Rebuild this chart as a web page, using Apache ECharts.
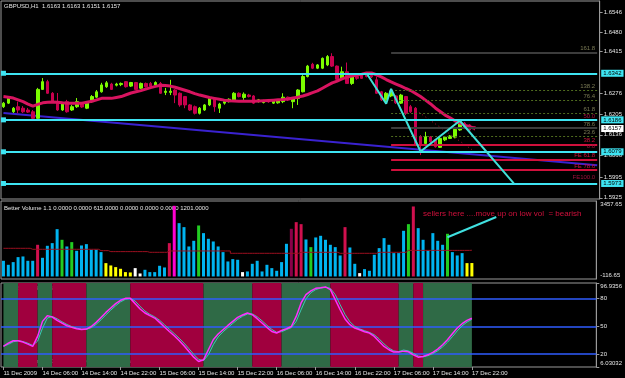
<!DOCTYPE html>
<html><head><meta charset="utf-8">
<script src="https://cdn.jsdelivr.net/npm/echarts@6/dist/echarts.min.js"></script>
<style>html,body{margin:0;padding:0;background:#000;}#c{width:625px;height:378px;}</style>
</head><body><div id="c"></div>
<script>
// ---------- DATA ----------
const tickLabels = ['11 Dec 2009','14 Dec 06:00','14 Dec 14:00','14 Dec 22:00','15 Dec 06:00','15 Dec 14:00','15 Dec 22:00','16 Dec 06:00','16 Dec 14:00','16 Dec 22:00','17 Dec 06:00','17 Dec 14:00','17 Dec 22:00'];
const slotCount = 122; // 97 bars + empty space on the right
const categories = Array.from({length: slotCount}, (_, i) => String(i));

const open = [1.6230,1.6242,1.6213,1.6230,1.6225,1.6219,1.6213,1.6191,1.6288,1.6314,1.6275,1.6247,1.6219,1.6247,1.6219,1.6230,1.6242,1.6225,1.6247,1.6262,1.6280,1.6297,1.6306,1.6302,1.6304,1.6314,1.6299,1.6311,1.6292,1.6308,1.6308,1.6303,1.6308,1.6278,1.6278,1.6286,1.6275,1.6264,1.6236,1.6230,1.6208,1.6219,1.6236,1.6258,1.6225,1.6242,1.6247,1.6253,1.6275,1.6261,1.6269,1.6266,1.6247,1.6244,1.6253,1.6242,1.6243,1.6247,1.6262,1.6247,1.6258,1.6280,1.6331,1.6372,1.6359,1.6359,1.6370,1.6398,1.6366,1.6325,1.6347,1.6308,1.6331,1.6336,1.6336,1.6335,1.6320,1.6280,1.6253,1.6266,1.6266,1.6242,1.6264,1.6230,1.6225,1.6130,1.6107,1.6129,1.6119,1.6094,1.6119,1.6124,1.6128,1.6152,1.6175,1.6169,1.6163];
const close = [1.6242,1.6258,1.6225,1.6219,1.6213,1.6212,1.6191,1.6288,1.6314,1.6275,1.6247,1.6219,1.6242,1.6213,1.6230,1.6247,1.6229,1.6242,1.6264,1.6280,1.6303,1.6310,1.6288,1.6306,1.6308,1.6297,1.6311,1.6288,1.6308,1.6297,1.6299,1.6311,1.6275,1.6282,1.6282,1.6269,1.6236,1.6236,1.6219,1.6208,1.6225,1.6236,1.6258,1.6230,1.6239,1.6247,1.6255,1.6275,1.6264,1.6272,1.6264,1.6242,1.6253,1.6250,1.6246,1.6249,1.6251,1.6262,1.6253,1.6258,1.6286,1.6331,1.6366,1.6359,1.6370,1.6392,1.6398,1.6366,1.6322,1.6347,1.6308,1.6331,1.6325,1.6325,1.6331,1.6330,1.6275,1.6253,1.6275,1.6283,1.6243,1.6269,1.6208,1.6213,1.6102,1.6102,1.6130,1.6113,1.6096,1.6124,1.6128,1.6132,1.6154,1.6180,1.6158,1.6152,1.6157];
const low = [1.6226,1.6239,1.6209,1.6208,1.6209,1.6209,1.6189,1.6189,1.6286,1.6273,1.6244,1.6216,1.6216,1.6210,1.6216,1.6226,1.6226,1.6222,1.6243,1.6259,1.6277,1.6293,1.6286,1.6298,1.6299,1.6294,1.6296,1.6286,1.6289,1.6294,1.6296,1.6299,1.6273,1.6269,1.6269,1.6242,1.6230,1.6225,1.6216,1.6204,1.6204,1.6216,1.6232,1.6213,1.6209,1.6237,1.6244,1.6249,1.6261,1.6253,1.6261,1.6239,1.6244,1.6241,1.6243,1.6239,1.6240,1.6242,1.6249,1.6225,1.6236,1.6278,1.6328,1.6356,1.6356,1.6356,1.6366,1.6363,1.6320,1.6323,1.6306,1.6303,1.6320,1.6323,1.6328,1.6326,1.6273,1.6249,1.6239,1.6262,1.6239,1.6239,1.6202,1.6209,1.6098,1.6068,1.6103,1.6109,1.6093,1.6092,1.6115,1.6122,1.6124,1.6149,1.6155,1.6149,1.6151];
const high = [1.6246,1.6263,1.6229,1.6247,1.6232,1.6226,1.6219,1.6293,1.6326,1.6320,1.6279,1.6276,1.6246,1.6253,1.6236,1.6259,1.6246,1.6246,1.6269,1.6286,1.6310,1.6316,1.6310,1.6310,1.6311,1.6316,1.6313,1.6313,1.6311,1.6311,1.6313,1.6315,1.6313,1.6293,1.6320,1.6289,1.6278,1.6266,1.6239,1.6234,1.6229,1.6239,1.6263,1.6261,1.6243,1.6251,1.6258,1.6279,1.6278,1.6278,1.6273,1.6269,1.6256,1.6253,1.6256,1.6253,1.6255,1.6275,1.6264,1.6261,1.6289,1.6336,1.6370,1.6377,1.6373,1.6395,1.6403,1.6409,1.6368,1.6364,1.6378,1.6335,1.6335,1.6342,1.6340,1.6340,1.6330,1.6283,1.6279,1.6286,1.6269,1.6273,1.6266,1.6236,1.6229,1.6135,1.6146,1.6132,1.6122,1.6129,1.6132,1.6135,1.6159,1.6186,1.6179,1.6172,1.6163];
const maValues = [1.6264,1.6262,1.6259,1.6253,1.6247,1.6239,1.6232,1.6238,1.6243,1.6245,1.6246,1.6245,1.6243,1.6242,1.6242,1.6242,1.6242,1.6245,1.6248,1.6253,1.6258,1.6258,1.6258,1.6261,1.6264,1.6270,1.6276,1.6280,1.6284,1.6289,1.6294,1.6298,1.6302,1.6301,1.6299,1.6295,1.6290,1.6285,1.6280,1.6274,1.6269,1.6265,1.6261,1.6258,1.6255,1.6252,1.6250,1.6249,1.6248,1.6248,1.6248,1.6248,1.6249,1.6250,1.6251,1.6252,1.6253,1.6254,1.6256,1.6259,1.6262,1.6266,1.6271,1.6277,1.6283,1.6292,1.6301,1.6310,1.6316,1.6323,1.6329,1.6333,1.6336,1.6339,1.6343,1.6343,1.6337,1.6330,1.6321,1.6313,1.6306,1.6299,1.6291,1.6284,1.6274,1.6264,1.6252,1.6240,1.6226,1.6214,1.6202,1.6193,1.6183,1.6176,1.6168,1.6163,1.6158];

const priceTicks = [1.6546,1.6480,1.6415,1.6276,1.6205,1.6136,1.6066,1.5995,1.5925];
const cyanLevels = [1.6342,1.6186,1.6079,1.5973];
const bidPrice = 1.6157;
const trendLine = [[0,1.6209],[121,1.6034]];
const zigzag = [[74,1.6342],[78,1.6240],[79,1.6290],[85,1.6080],[93,1.6183],[104,1.5973]];
const dottedTrend = [[84,1.6219],[96,1.6080]];
// fib levels: price, label, kind
const fibLevels = [
  [1.6411,'161.8','gray'],[1.6286,'138.2','olive'],[1.6253,'76.4','olive'],[1.6208,'61.8','olive'],
  [1.6186,'50.0','none'],[1.6158,'78.6','gray'],[1.6130,'23.6','olive'],[1.6103,'38.2','red'],
  [1.6084,'0.0','none'],[1.6053,'FE 61.8','red'],[1.6018,'FE 78.6','red'],[1.5980,'FE100.0','none']
];
const firstSlot = 0, lastSlot = 121, fibStart = 79;

const volume = [718,534,657,886,916,718,718,1451,855,1405,1527,2168,1680,1374,1573,1176,1420,1481,1222,1222,1115,611,504,428,351,199,183,382,137,305,199,199,489,412,1527,3237,2443,2260,1374,1634,2336,1985,1726,1603,1374,1115,687,794,764,199,229,580,718,229,534,382,260,657,1496,2184,2489,2397,1695,1344,1787,1863,1680,1451,1344,962,2260,1328,580,153,336,260,993,1298,1756,1451,1069,1069,2092,2397,3207,2214,1680,1191,1985,1634,1451,1955,1115,962,1069,611,615];
const volumeKind = 'bbbbbbbrbbbbgbgbbbbbbyyyyyywwbbbbbrmbbbbgbbbbbbbbwbbbbbbbbbdrrbgbbbbbbrbbwbbbbbbbbbgrbbbbbbgbbbyy'.split('');
const volumeAvg = [1290,1290,1290,1290,1290,1290,1245,1245,1245,1245,1245,1245,1245,1245,1245,1245,1245,1245,1245,1245,1183,1183,1138,1138,1138,1138,1138,1138,1138,1138,1107,1107,1107,1107,1168,1168,1168,1168,1168,1168,1168,1168,1168,1168,1168,1168,1168,1061,1061,1061,1061,1061,1061,1061,1061,1061,1061,1061,1061,1061,1061,1107,1107,1107,1107,1107,1107,1107,1107,1061,1061,1061,1061,1061,1061,1061,1061,1107,1107,1107,1107,1107,1107,1195,1195,1195,1195,1195,1195,1195,1195,1195,1195,1195,1195,1195,1201];
const volMin = -116.65, volMax = 3457.65;
const volArrow = [[91,1795],[101,2724]];

const rsiMain = [28.3,31.9,34.4,34.4,33.0,30.8,28.3,39.1,55.4,61.6,60.1,56.5,53.6,50.7,48.9,47.4,46.7,47.1,49.9,54.3,59.7,65.1,69.9,74.6,78.2,80.3,80.3,74.6,68.8,64.5,61.6,59.0,54.3,49.3,44.5,39.9,34.8,29.0,22.8,16.7,12.0,13.8,24.7,35.5,41.7,46.4,51.0,55.4,59.7,62.3,64.5,62.6,58.3,53.6,48.9,44.5,42.8,45.6,47.4,49.9,60.8,75.3,84.3,88.5,91.2,91.9,92.7,89.8,78.9,68.0,58.0,51.8,48.2,46.4,44.2,42.8,39.1,33.7,28.3,24.7,22.2,22.2,23.2,22.5,19.2,16.7,17.4,19.2,21.8,25.4,30.1,35.5,42.0,48.2,52.9,56.5,58.79];
const rsiSignal = [28.8,30.5,33.3,34.5,33.6,31.8,29.4,34.0,48.0,59.0,60.8,58.2,55.0,52.1,49.8,48.1,47.0,46.9,48.6,52.2,57.1,62.5,67.6,72.3,76.5,79.3,80.3,77.4,71.7,66.6,63.0,60.3,56.6,51.8,46.9,42.2,37.3,31.9,25.9,19.7,14.3,12.9,19.3,30.1,38.6,44.1,48.7,53.2,57.6,61.0,63.4,63.5,60.4,56.0,51.2,46.7,43.6,44.2,46.5,48.7,55.4,68.0,79.8,86.4,89.8,91.5,92.3,91.2,84.3,73.5,63.0,54.9,50.0,47.3,45.3,43.5,40.9,36.4,31.0,26.5,23.4,22.6,24.4,23.4,20.9,17.9,17.1,18.3,20.5,23.6,27.8,32.8,38.8,45.1,50.6,54.7,57.55];
const rsiZones = [[0,3,'g'],[3,7,'r'],[7,10,'g'],[10,17,'r'],[17,26,'g'],[26,41,'r'],[41,51,'g'],[51,57,'r'],[57,67,'g'],[67,81,'r'],[81,84,'g'],[84,86,'r'],[86,96,'g']];
const rsiLevels = [80,50,20];
const rsiMin = 6.03032, rsiMax = 96.9356;
const rsiTicks = [96.9356,80,50,20,6.03032];

// ---------- STYLE ----------
const FONT = '"Liberation Sans",Arial,sans-serif';
const FS = 6;
const txt = '#e6e6e6';
const frame = '#9a9a9a';
const cyan = '#3ee4f2';
const upCol = '#7cfc00', downCol = '#c8004e';
const volColors = {b:'#00b4f0', r:'#d0104e', g:'#22cc22', y:'#ffff00', w:'#ffffff', m:'#ff00d0', d:'#8a0048'};
const fibStyle = {
  gray:{color:'#3c3c3c', type:'solid', width:2, text:'#7a7a55'},
  olive:{color:'#4f6b1f', type:[2,2], width:1, text:'#7a7a55'},
  red:{color:'#d0103c', type:'solid', width:2, text:'#d0103c'},
  none:{color:'rgba(0,0,0,0)', type:'solid', width:1, text:'#a0103c'}
};
const edgeRich = {dn:{padding:[7,0,0,0], color:txt, fontSize:FS}, up:{padding:[0,0,7,0], color:txt, fontSize:FS}};

const chart = echarts.init(document.getElementById('c'), null, {renderer:'canvas'});

const xBase = (gi) => ({
  type:'category', gridIndex:gi, data:categories, boundaryGap:true,
  axisLine:{show:false}, axisTick:{show:false}, axisLabel:{show:false}, splitLine:{show:false}
});

const boxLabel = (p, bg) => ({show:true, position:'end', distance:4, formatter:p.toFixed(4), color:'#000',
  backgroundColor:bg, padding:[1,2,0,2], fontSize:FS, fontFamily:FONT});

const cyanLineData = cyanLevels.map(p => [
  {coord:[firstSlot, p], symbol:'rect', symbolSize:5,
   lineStyle:{color:cyan, width:2, type:'solid'}, label:boxLabel(p, cyan)},
  {coord:[lastSlot, p], symbol:'none'}
]);
const bidData = [
  {coord:[firstSlot, bidPrice], lineStyle:{color:'rgba(0,0,0,0)', width:1}, label:boxLabel(bidPrice, '#ffffff')},
  {coord:[lastSlot, bidPrice]}
];
const fibData = fibLevels.map(([p, t, k]) => {
  const s = fibStyle[k];
  return [
    {coord:[fibStart, p], lineStyle:{color:s.color, type:s.type, width:s.width},
     label:{show:true, position:'insideEndTop', formatter:t, color:s.text, fontSize:FS, fontFamily:FONT, distance:[2,1]}},
    {coord:[lastSlot, p]}
  ];
});

const option = {
  animation:false,
  backgroundColor:'#000',
  textStyle:{fontFamily:FONT},
  grid:[
    {left:1, right:23, top:1, height:198, show:true, borderColor:frame, borderWidth:1},
    {left:1, right:23, top:201, height:78, show:true, borderColor:frame, borderWidth:1},
    {left:1, right:23, top:283, height:84, show:true, borderColor:frame, borderWidth:1}
  ],
  xAxis:[
    xBase(0), xBase(1),
    Object.assign(xBase(2), {
      axisTick:{show:true, alignWithLabel:true, length:3, lineStyle:{color:frame},
        interval:(i)=> i % 8 === 0 && i <= 96},
      axisLabel:{show:true, align:'left', color:txt, fontSize:FS, margin:3, fontFamily:FONT,
        showMinLabel:true, showMaxLabel:true,
        interval:(i)=> i % 8 === 0 && i <= 96,
        formatter:(v, i)=> tickLabels[i/8] || ''}
    })
  ],
  yAxis:[
    {type:'value', gridIndex:0, position:'right', min:1.5921, max:1.6584, splitLine:{show:false},
      axisLine:{show:true, lineStyle:{color:frame}},
      axisTick:{show:true, length:3, customValues:priceTicks, lineStyle:{color:frame}},
      axisLabel:{show:true, customValues:priceTicks, formatter:(v)=>v.toFixed(4), color:txt, fontSize:FS, margin:4, fontFamily:FONT}},
    {type:'value', gridIndex:1, position:'right', min:volMin, max:volMax, splitLine:{show:false},
      axisLine:{show:true, lineStyle:{color:frame}},
      axisTick:{show:false},
      axisLabel:{show:true, customValues:[volMin, volMax], color:txt, fontSize:FS, margin:4, fontFamily:FONT, rich:edgeRich,
        formatter:(v)=> v === volMax ? '{dn|' + v.toFixed(2) + '}' : '{up|' + v.toFixed(2) + '}'}},
    {type:'value', gridIndex:2, position:'right', min:rsiMin, max:rsiMax, splitLine:{show:false},
      axisLine:{show:true, lineStyle:{color:frame}},
      axisTick:{show:true, length:3, customValues:rsiTicks, lineStyle:{color:frame}},
      axisLabel:{show:true, customValues:rsiTicks, color:txt, fontSize:FS, margin:4, fontFamily:FONT, rich:edgeRich,
        formatter:(v)=> v === rsiMax ? '{dn|' + v + '}' : (v === rsiMin ? '{up|' + v + '}' : String(v))}}
  ],
  series:[
    // price panel
    {type:'line', xAxisIndex:0, yAxisIndex:0, data:trendLine, symbol:'none', z:1,
      lineStyle:{color:'#3a22d0', width:2}},
    {type:'candlestick', xAxisIndex:0, yAxisIndex:0, barWidth:3, z:2,
      data: open.map((o,i)=>[o, close[i], low[i], high[i]]),
      itemStyle:{color:upCol, color0:downCol, borderColor:upCol, borderColor0:downCol, borderWidth:1}},
    {type:'line', xAxisIndex:0, yAxisIndex:0, data:maValues, symbol:'none', z:3,
      lineStyle:{color:'#d81460', width:3},
      markLine:{silent:true, symbol:'none', animation:false,
        data: fibData.concat(cyanLineData).concat([bidData])}},
    {type:'line', xAxisIndex:0, yAxisIndex:0, data:dottedTrend, symbol:'none', z:3,
      lineStyle:{color:'#b01030', width:1, type:[1,3]}},
    {type:'line', xAxisIndex:0, yAxisIndex:0, data:zigzag, symbol:'none', z:5,
      lineStyle:{color:'#40e0d8', width:2}},
    // volume panel
    {type:'bar', xAxisIndex:1, yAxisIndex:1, barWidth:3,
      data: volume.map((v,i)=>({value:v, itemStyle:{color:volColors[volumeKind[i]]}}))},
    {type:'line', xAxisIndex:1, yAxisIndex:1, data:volumeAvg, symbol:'none', step:'middle',
      lineStyle:{color:'#9c1020', width:1},
      markLine:{silent:true, symbol:'none', animation:false,
        data:[[{coord:volArrow[0], lineStyle:{color:'#40e0e0', width:2, type:'solid'}, label:{show:false}}, {coord:volArrow[1]}]]}},
    // rsi panel
    {type:'custom', xAxisIndex:2, yAxisIndex:2, z:1, silent:true,
      data: rsiZones.map(z => [z[0], z[1], z[2] === 'r' ? 1 : 0]),
      encode:{x:[0,1], y:2},
      renderItem:(params, api) => {
        const a = api.coord([api.value(0), rsiMax]);
        const b = api.coord([api.value(1), rsiMin]);
        return {type:'rect', shape:{x:a[0], y:a[1], width:b[0]-a[0], height:b[1]-a[1]},
          style:{fill: api.value(2) ? '#a0003e' : '#2f6a46'}};
      }},
    {type:'line', xAxisIndex:2, yAxisIndex:2, data:rsiSignal, symbol:'none', z:3,
      lineStyle:{color:'#3cc8b4', width:1}},
    {type:'line', xAxisIndex:2, yAxisIndex:2, data:rsiMain, symbol:'none', z:4,
      lineStyle:{color:'#ff30ff', width:1.5},
      markLine:{silent:true, symbol:'none', animation:false, z:2,
        lineStyle:{color:'#2f5cff', width:1.5, type:'solid'}, label:{show:false},
        data: rsiLevels.map(v=>({yAxis:v}))}}
  ],
  graphic:[
    {type:'text', left:4, top:3, style:{text:'GBPUSD,H1  1.6163 1.6163 1.6151 1.6157', fill:txt, fontSize:FS, fontFamily:FONT}},
    {type:'text', left:4, top:205, style:{text:'Better Volume 1.1 0.0000 0.0000 615.0000 0.0000 0.0000 0.0000 1201.0000', fill:txt, fontSize:FS, fontFamily:FONT}},
    {type:'text', left:4, top:285, style:{text:'RSI(2) 58.78937 57.54555', fill:txt, fontSize:FS, fontFamily:FONT}},
    {type:'text', left:4, top:358, style:{text:'Broco Trader, \u00a9 2001-2009 MetaQuotes Software Corp.', fill:txt, fontSize:FS, fontFamily:FONT}},
    {type:'text', left:423, top:210, style:{text:'sellers here ....move up on low vol  = bearish', fill:'#d0103c', fontSize:8, fontFamily:FONT}}
  ]
};
chart.setOption(option);
</script></body></html>
